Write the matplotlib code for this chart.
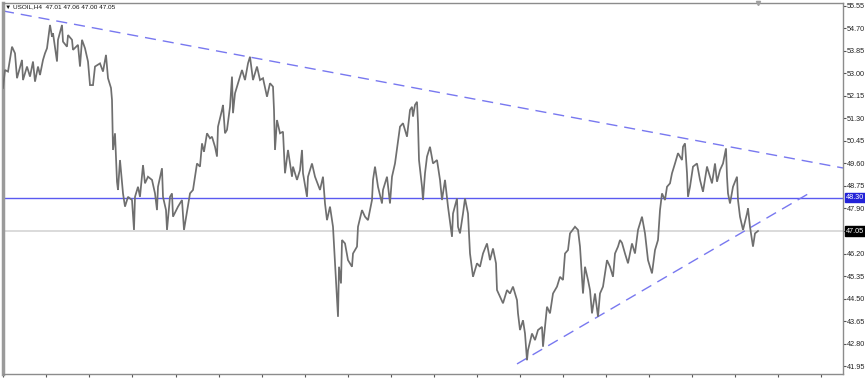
#!/usr/bin/env python3
"""
USOIL H4 chart with a falling resistance line, a rising support line
and the 48.30 level, in the MetaTrader look.
"""

import matplotlib
matplotlib.use("Agg")
import matplotlib.pyplot as plt

plt.rcParams["font.family"] = ["Liberation Sans", "DejaVu Sans"]

# --- Data ---
bars = [
    3, 5, 8, 12, 15, 17, 22, 23, 27, 30, 33, 35, 38, 40, 43, 45, 47, 50, 52, 53,
    57, 58, 62, 63, 67, 68, 72, 73, 78, 80, 82, 85, 88, 90, 93, 95, 100, 103, 106, 108,
    111, 112, 113, 115, 117, 118, 120, 123, 125, 128, 132, 134, 135, 138, 140, 143, 145, 148, 152, 155,
    157, 158, 162, 163, 166, 167, 170, 172, 173, 178, 182, 184, 187, 190, 193, 195, 197, 200, 202, 204,
    207, 210, 212, 215, 217, 218, 222, 223, 225, 227, 230, 232, 233, 235, 238, 242, 245, 248, 250, 253,
    257, 260, 263, 267, 270, 273, 274, 275, 277, 280, 283, 285, 288, 292, 293, 297, 300, 302, 303, 307,
    308, 312, 315, 320, 323, 325, 327, 330, 333, 335, 338, 339, 341, 342, 345, 348, 352, 353, 357, 358,
    362, 365, 368, 372, 373, 375, 378, 382, 383, 387, 390, 392, 395, 398, 400, 403, 407, 410, 412, 413,
    415, 417, 418, 419, 422, 423, 425, 427, 430, 433, 437, 440, 442, 445, 448, 452, 453, 457, 458, 460,
    463, 465, 468, 470, 473, 477, 480, 483, 487, 490, 493, 496, 497, 500, 503, 507, 510, 513, 517, 518,
    520, 523, 525, 527, 528, 532, 535, 538, 542, 543, 547, 550, 553, 557, 560, 563, 565, 568, 570, 575,
    578, 580, 582, 583, 585, 588, 590, 592, 595, 598, 600, 603, 607, 610, 613, 615, 618, 620, 622, 625,
    628, 632, 635, 638, 642, 645, 648, 652, 655, 658, 660, 662, 665, 667, 670, 672, 675, 678, 682, 683,
    685, 687, 688, 690, 693, 697, 700, 703, 707, 708, 712, 715, 717, 720, 723, 726, 727, 728, 730, 733,
    737, 738, 740, 743, 747, 748, 750, 752, 753, 755, 758,
]
prices = [
    52.45, 53.13, 53.07, 54.01, 53.76, 52.82, 53.51, 52.75, 53.26, 52.88, 53.45, 52.69, 53.26, 52.94, 53.51, 53.76, 53.95, 54.83, 54.39, 54.52,
    53.45, 54.27, 54.83, 54.20, 54.01, 54.45, 54.27, 53.89, 54.08, 53.26, 54.27, 53.95, 53.45, 52.56, 52.56, 53.26, 53.38, 53.07, 53.70, 52.82,
    52.45, 52.00, 50.11, 50.74, 48.91, 48.60, 49.73, 48.47, 47.97, 48.34, 48.22, 47.09, 48.34, 48.72, 48.34, 49.54, 48.85, 49.10, 48.98, 48.47,
    47.84, 48.72, 49.42, 48.34, 47.84, 47.09, 48.34, 48.47, 47.59, 47.97, 48.22, 47.09, 47.78, 48.47, 48.60, 49.10, 49.60, 49.48, 50.36, 50.04,
    50.74, 50.55, 50.61, 50.23, 49.86, 50.99, 51.62, 51.81, 50.74, 50.87, 51.74, 52.88, 51.50, 52.25, 52.63, 53.13, 52.75, 53.38, 53.63, 52.75,
    53.26, 52.75, 52.82, 52.12, 52.63, 52.50, 51.62, 50.11, 51.24, 50.74, 50.80, 49.23, 50.11, 49.10, 49.48, 48.98, 49.35, 50.11, 49.23, 48.34,
    49.10, 49.60, 49.10, 48.60, 49.10, 48.09, 47.46, 47.97, 47.21, 45.83, 43.81, 45.70, 45.07, 46.71, 46.58, 45.95, 45.70, 46.20, 46.46, 47.21,
    47.84, 47.59, 47.46, 48.22, 48.98, 49.48, 48.72, 48.09, 48.60, 49.10, 48.09, 49.10, 49.60, 50.42, 50.99, 51.12, 50.61, 51.62, 51.74, 51.37,
    51.81, 51.93, 51.12, 49.73, 48.72, 48.22, 49.23, 49.86, 50.23, 49.60, 49.73, 48.98, 48.22, 48.98, 47.97, 46.83, 47.71, 48.28, 47.21, 46.96,
    47.71, 48.28, 47.71, 46.20, 45.32, 45.83, 45.70, 46.20, 46.58, 45.95, 46.39, 45.83, 44.82, 44.57, 44.32, 44.82, 44.69, 44.95, 44.44, 43.94,
    43.31, 43.68, 43.18, 42.17, 42.55, 43.18, 42.93, 43.31, 43.43, 42.68, 44.19, 43.94, 44.69, 44.95, 45.32, 45.20, 46.20, 46.33, 46.96, 47.21,
    47.09, 46.46, 45.32, 44.69, 45.70, 45.20, 44.82, 43.94, 44.69, 43.81, 44.69, 44.95, 45.95, 45.70, 45.32, 46.20, 46.46, 46.71, 46.60, 46.20,
    45.83, 46.58, 46.20, 47.09, 47.59, 46.96, 45.95, 45.45, 46.33, 46.71, 47.84, 48.47, 48.22, 48.72, 48.85, 49.23, 49.60, 49.99, 49.73, 50.23,
    50.36, 49.23, 48.34, 48.72, 49.48, 49.60, 48.98, 48.53, 49.48, 49.35, 48.85, 49.60, 48.91, 49.35, 49.60, 50.17, 49.10, 48.47, 48.09, 48.72,
    49.10, 48.22, 47.59, 47.09, 47.71, 47.90, 47.21, 46.71, 46.46, 46.96, 47.05,
]

# trendline anchors (bar, price)
resistance_bars = [3, 843]
resistance_prices = [55.36, 49.43]
support_bars = [517, 813]
support_prices = [42.03, 48.56]
level_price = 48.30
last_price = 47.05

price_ticks = [55.55, 54.70, 53.85, 53.00, 52.15, 51.30, 50.45, 49.60, 48.75,
               47.90, 47.05, 46.20, 45.35, 44.50, 43.65, 42.80, 41.95]
time_ticks = [3, 46, 89, 132, 176, 219, 262, 305, 348, 391, 434, 477, 520,
              563, 606, 649, 692, 735, 778, 821]
header = "\u25bc USOIL,H4  47.01 47.06 47.00 47.05"

# --- Figure ---
W, H = 865, 378
fig = plt.figure(figsize=(W / 100, H / 100), dpi=100)
fig.patch.set_facecolor("white")
ax = fig.add_axes([3 / W, 4 / H, 840 / W, 371 / H])
ax.set_xlim(3, 843)
ax.set_ylim(41.65, 55.66)

ax.axhline(last_price, color="#d4d4d4", linewidth=1.2, zorder=1)
ax.axhline(level_price, color="#5a5af0", linewidth=1.0, zorder=2)

ax.plot(resistance_bars, resistance_prices, color="#7878f0", linewidth=1.0,
        dashes=(8, 5), zorder=2)
ax.plot(support_bars, support_prices, color="#7878f0", linewidth=1.0,
        dashes=(8, 5), zorder=2)

ax.plot(bars, prices, color="#6f6f6f", linewidth=1.25, solid_joinstyle="miter", zorder=3)

# shift marker at top over the last bar
ax.plot([bars[-1]], [55.66], marker="v", markersize=3, color="#a0a0a0",
        clip_on=False, zorder=4)

# --- Axes styling ---
for side in ["top", "bottom", "right"]:
    ax.spines[side].set_color("#8c8c8c")
    ax.spines[side].set_linewidth(1.0)
ax.spines["left"].set_color("#9a9a9a")
ax.spines["left"].set_linewidth(2.5)

ax.yaxis.tick_right()
ax.set_yticks(price_ticks)
ax.set_yticklabels(["" if p == last_price else f"{p:.2f}" for p in price_ticks])
ax.tick_params(axis="y", direction="out", length=2, width=0.8, color="#555555",
               labelsize=5.2, pad=1.0, labelcolor="#222222")
ax.set_xticks(time_ticks)
ax.set_xticklabels([])
ax.tick_params(axis="x", direction="out", length=2, width=0.8, color="#555555")

# price boxes on the right scale
ax.annotate(f"{level_price:.2f}", xy=(1.0, level_price),
            xycoords=("axes fraction", "data"), xytext=(2, 0),
            textcoords="offset points", va="center", ha="left",
            fontsize=5.2, color="white", annotation_clip=False, zorder=6,
            bbox=dict(boxstyle="square,pad=0.15", fc="#2323d8", ec="#2323d8"))
ax.annotate(f"{last_price:.2f}", xy=(1.0, last_price),
            xycoords=("axes fraction", "data"), xytext=(2, 0),
            textcoords="offset points", va="center", ha="left",
            fontsize=5.2, color="white", annotation_clip=False, zorder=6,
            bbox=dict(boxstyle="square,pad=0.15", fc="black", ec="black"))

fig.text(5 / W, 1 - 7 / H, header, fontsize=4.6, color="#111111",
         ha="left", va="center")

fig.savefig("out.png", dpi=100, facecolor="white")
